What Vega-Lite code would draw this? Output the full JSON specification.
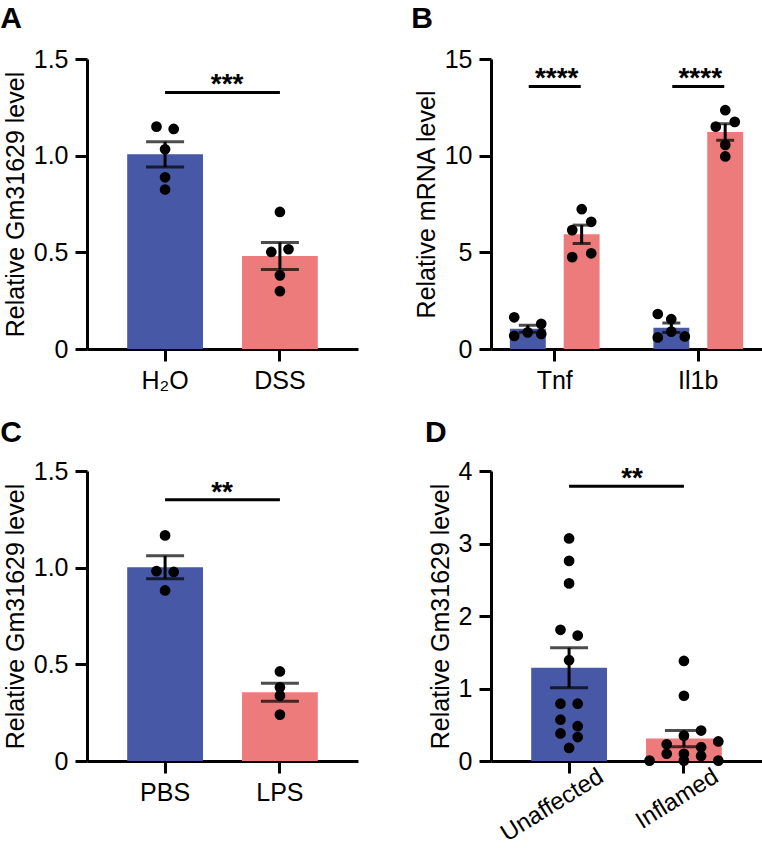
{
  "$schema": "https://vega.github.io/schema/vega-lite/v6.json",
  "background": "white",
  "padding": {"left": 0, "top": 4, "right": 0, "bottom": 0},
  "columns": 2,
  "spacing": {"row": 122, "column": 133},
  "bounds": "flush",
  "config": {
    "font": "Liberation Sans",
    "view": {"stroke": null},
    "axis": {
      "domainColor": "black", "domainWidth": 3, "tickColor": "black", "tickWidth": 3, "tickSize": 12,
      "labelFontSize": 25, "labelColor": "black", "labelFont": "Liberation Sans", "labelPadding": 7,
      "titleFontSize": 25, "titleFontWeight": "normal", "titleColor": "black", "titleFont": "Liberation Sans", "titlePadding": 5,
      "grid": false
    },
    "title": {"fontSize": 30, "fontWeight": "bold", "anchor": "start", "frame": "bounds", "color": "black", "font": "Liberation Sans", "offset": 13, "dx": -3}
  },
  "datasets": {
    "a": [
      {"group": "H₂O", "cond": "ctrl", "v": 1.150, "col": -1},
      {"group": "H₂O", "cond": "ctrl", "v": 1.138, "col": 1},
      {"group": "H₂O", "cond": "ctrl", "v": 1.033, "col": 0},
      {"group": "H₂O", "cond": "ctrl", "v": 0.888, "col": 0},
      {"group": "H₂O", "cond": "ctrl", "v": 0.825, "col": 0},
      {"group": "DSS", "cond": "case", "v": 0.709, "col": 0},
      {"group": "DSS", "cond": "case", "v": 0.502, "col": -1},
      {"group": "DSS", "cond": "case", "v": 0.516, "col": 1},
      {"group": "DSS", "cond": "case", "v": 0.381, "col": 0},
      {"group": "DSS", "cond": "case", "v": 0.299, "col": 0}
    ],
    "aSig": [{"a": "H₂O", "b": "DSS", "y": 1.327, "label": "***"}],
    "b": [
      {"gene": "Tnf", "cond": "ctrl", "v": 1.64, "col": -1},
      {"gene": "Tnf", "cond": "ctrl", "v": 1.30, "col": 1},
      {"gene": "Tnf", "cond": "ctrl", "v": 0.86, "col": 0},
      {"gene": "Tnf", "cond": "ctrl", "v": 0.68, "col": -1},
      {"gene": "Tnf", "cond": "ctrl", "v": 0.78, "col": 1},
      {"gene": "Tnf", "cond": "case", "v": 7.23, "col": 0},
      {"gene": "Tnf", "cond": "case", "v": 6.58, "col": 1},
      {"gene": "Tnf", "cond": "case", "v": 6.15, "col": -1},
      {"gene": "Tnf", "cond": "case", "v": 4.75, "col": -1},
      {"gene": "Tnf", "cond": "case", "v": 4.95, "col": 1},
      {"gene": "Il1b", "cond": "ctrl", "v": 1.81, "col": -1},
      {"gene": "Il1b", "cond": "ctrl", "v": 1.54, "col": 0},
      {"gene": "Il1b", "cond": "ctrl", "v": 0.90, "col": 0},
      {"gene": "Il1b", "cond": "ctrl", "v": 0.60, "col": -1},
      {"gene": "Il1b", "cond": "ctrl", "v": 0.65, "col": 1},
      {"gene": "Il1b", "cond": "case", "v": 12.35, "col": 0},
      {"gene": "Il1b", "cond": "case", "v": 11.50, "col": -1},
      {"gene": "Il1b", "cond": "case", "v": 11.75, "col": 1},
      {"gene": "Il1b", "cond": "case", "v": 10.56, "col": 0},
      {"gene": "Il1b", "cond": "case", "v": 9.96, "col": 0}
    ],
    "bSig": [
      {"gene": "Tnf", "y": 13.58, "label": "****"},
      {"gene": "Il1b", "y": 13.58, "label": "****"}
    ],
    "c": [
      {"group": "PBS", "cond": "ctrl", "v": 1.167, "col": 0},
      {"group": "PBS", "cond": "ctrl", "v": 0.982, "col": -1},
      {"group": "PBS", "cond": "ctrl", "v": 0.978, "col": 1},
      {"group": "PBS", "cond": "ctrl", "v": 0.882, "col": 0},
      {"group": "LPS", "cond": "case", "v": 0.463, "col": 0},
      {"group": "LPS", "cond": "case", "v": 0.381, "col": 0},
      {"group": "LPS", "cond": "case", "v": 0.338, "col": 0},
      {"group": "LPS", "cond": "case", "v": 0.240, "col": 0}
    ],
    "cSig": [{"a": "PBS", "b": "LPS", "y": 1.351, "label": "**"}],
    "d": [
      {"group": "Unaffected", "cond": "ctrl", "v": 3.07, "col": 0},
      {"group": "Unaffected", "cond": "ctrl", "v": 2.76, "col": 0},
      {"group": "Unaffected", "cond": "ctrl", "v": 2.45, "col": 0},
      {"group": "Unaffected", "cond": "ctrl", "v": 1.81, "col": -1},
      {"group": "Unaffected", "cond": "ctrl", "v": 1.73, "col": 1},
      {"group": "Unaffected", "cond": "ctrl", "v": 1.39, "col": 0},
      {"group": "Unaffected", "cond": "ctrl", "v": 0.79, "col": -1},
      {"group": "Unaffected", "cond": "ctrl", "v": 0.79, "col": 1},
      {"group": "Unaffected", "cond": "ctrl", "v": 0.57, "col": -1},
      {"group": "Unaffected", "cond": "ctrl", "v": 0.48, "col": 1},
      {"group": "Unaffected", "cond": "ctrl", "v": 0.38, "col": -1},
      {"group": "Unaffected", "cond": "ctrl", "v": 0.33, "col": 1},
      {"group": "Unaffected", "cond": "ctrl", "v": 0.18, "col": 0},
      {"group": "Inflamed", "cond": "case", "v": 1.38, "col": 0},
      {"group": "Inflamed", "cond": "case", "v": 0.90, "col": 0},
      {"group": "Inflamed", "cond": "case", "v": 0.42, "col": 2},
      {"group": "Inflamed", "cond": "case", "v": 0.35, "col": 0},
      {"group": "Inflamed", "cond": "case", "v": 0.23, "col": -2},
      {"group": "Inflamed", "cond": "case", "v": 0.27, "col": 4},
      {"group": "Inflamed", "cond": "case", "v": 0.19, "col": 2},
      {"group": "Inflamed", "cond": "case", "v": 0.10, "col": -2},
      {"group": "Inflamed", "cond": "case", "v": 0.10, "col": 0},
      {"group": "Inflamed", "cond": "case", "v": 0.07, "col": 2},
      {"group": "Inflamed", "cond": "case", "v": 0.005, "col": -4},
      {"group": "Inflamed", "cond": "case", "v": 0.005, "col": 0},
      {"group": "Inflamed", "cond": "case", "v": 0.005, "col": 4}
    ],
    "dSig": [{"a": "Unaffected", "b": "Inflamed", "y": 3.79, "label": "**"}]
  },
  "concat": [
    {
      "width": 271, "height": 290,
      "title": {"text": "A"},
      "layer": [
        {
          "data": {"name": "a"},
          "mark": {"type": "bar"},
          "encoding": {
            "x": {"field": "group", "type": "nominal", "title": null, "scale": {"domain": ["H₂O", "DSS"], "paddingInner": 0.34, "paddingOuter": 0.35}, "axis": {"labelAngle": 0}},
            "y": {"aggregate": "mean", "field": "v", "type": "quantitative", "title": "Relative Gm31629 level", "scale": {"domain": [0, 1.5], "nice": false}, "axis": {"values": [0, 0.5, 1, 1.5], "labelExpr": "datum.value == 0 ? '0' : format(datum.value, '.1f')"}},
            "color": {"field": "cond", "type": "nominal", "scale": {"domain": ["ctrl", "case"], "range": ["#4658A6", "#EE7B7B"]}, "legend": null}
          }
        },
        {
          "data": {"name": "a"},
          "mark": {"type": "errorbar", "extent": "stderr", "ticks": true, "size": 38, "thickness": 3, "color": "black"},
          "encoding": {"x": {"field": "group", "type": "nominal", "title": null}, "y": {"field": "v", "type": "quantitative", "title": "Relative Gm31629 level"}}
        },
        {
          "data": {"name": "a"}, "transform": [{"filter": "datum.col == -1"}],
          "mark": {"type": "circle", "size": 115, "color": "black", "opacity": 1, "xOffset": -8.6},
          "encoding": {"x": {"field": "group", "type": "nominal", "title": null}, "y": {"field": "v", "type": "quantitative", "title": "Relative Gm31629 level"}}
        },
        {
          "data": {"name": "a"}, "transform": [{"filter": "datum.col == 0"}],
          "mark": {"type": "circle", "size": 115, "color": "black", "opacity": 1},
          "encoding": {"x": {"field": "group", "type": "nominal", "title": null}, "y": {"field": "v", "type": "quantitative", "title": "Relative Gm31629 level"}}
        },
        {
          "data": {"name": "a"}, "transform": [{"filter": "datum.col == 1"}],
          "mark": {"type": "circle", "size": 115, "color": "black", "opacity": 1, "xOffset": 8.6},
          "encoding": {"x": {"field": "group", "type": "nominal", "title": null}, "y": {"field": "v", "type": "quantitative", "title": "Relative Gm31629 level"}}
        },
        {
          "data": {"name": "aSig"},
          "mark": {"type": "rule", "strokeWidth": 3, "color": "black"},
          "encoding": {"x": {"field": "a", "type": "nominal", "title": null}, "x2": {"field": "b"}, "y": {"field": "y", "type": "quantitative", "title": "Relative Gm31629 level"}}
        },
        {
          "data": {"name": "aSig"},
          "mark": {"type": "text", "fontSize": 28, "fontWeight": "bold", "baseline": "alphabetic", "align": "center", "xOffset": 62, "dy": 1, "color": "black"},
          "encoding": {"x": {"field": "a", "type": "nominal", "title": null}, "y": {"field": "y", "type": "quantitative", "title": "Relative Gm31629 level"}, "text": {"field": "label"}}
        }
      ]
    },
    {
      "width": 271, "height": 290,
      "title": {"text": "B"},
      "layer": [
        {
          "data": {"name": "b"},
          "mark": {"type": "bar"},
          "encoding": {
            "x": {"field": "gene", "type": "nominal", "title": null, "scale": {"domain": ["Tnf", "Il1b"], "paddingInner": 0.2, "paddingOuter": 0.044}, "axis": {"labelAngle": 0}},
            "xOffset": {"field": "cond", "type": "nominal", "scale": {"domain": ["ctrl", "case"], "paddingInner": 0.333, "paddingOuter": 0.233}},
            "y": {"aggregate": "mean", "field": "v", "type": "quantitative", "title": "Relative mRNA level", "scale": {"domain": [0, 15], "nice": false}, "axis": {"values": [0, 5, 10, 15], "format": "d"}},
            "color": {"field": "cond", "type": "nominal", "scale": {"domain": ["ctrl", "case"], "range": ["#4658A6", "#EE7B7B"]}, "legend": null}
          }
        },
        {
          "data": {"name": "b"},
          "mark": {"type": "errorbar", "extent": "stderr", "ticks": true, "size": 18, "thickness": 3, "color": "black"},
          "encoding": {"x": {"field": "gene", "type": "nominal", "title": null}, "xOffset": {"field": "cond", "type": "nominal"}, "y": {"field": "v", "type": "quantitative", "title": "Relative mRNA level"}}
        },
        {
          "data": {"name": "b"}, "transform": [{"filter": "datum.cond == 'ctrl' && datum.col == -1"}],
          "mark": {"type": "circle", "size": 115, "color": "black", "opacity": 1, "xOffset": -40.5},
          "encoding": {"x": {"field": "gene", "type": "nominal", "title": null}, "y": {"field": "v", "type": "quantitative", "title": "Relative mRNA level"}}
        },
        {
          "data": {"name": "b"}, "transform": [{"filter": "datum.cond == 'ctrl' && datum.col == 0"}],
          "mark": {"type": "circle", "size": 115, "color": "black", "opacity": 1, "xOffset": -27},
          "encoding": {"x": {"field": "gene", "type": "nominal", "title": null}, "y": {"field": "v", "type": "quantitative", "title": "Relative mRNA level"}}
        },
        {
          "data": {"name": "b"}, "transform": [{"filter": "datum.cond == 'ctrl' && datum.col == 1"}],
          "mark": {"type": "circle", "size": 115, "color": "black", "opacity": 1, "xOffset": -13.5},
          "encoding": {"x": {"field": "gene", "type": "nominal", "title": null}, "y": {"field": "v", "type": "quantitative", "title": "Relative mRNA level"}}
        },
        {
          "data": {"name": "b"}, "transform": [{"filter": "datum.cond == 'case' && datum.col == -1"}],
          "mark": {"type": "circle", "size": 115, "color": "black", "opacity": 1, "xOffset": 17.5},
          "encoding": {"x": {"field": "gene", "type": "nominal", "title": null}, "y": {"field": "v", "type": "quantitative", "title": "Relative mRNA level"}}
        },
        {
          "data": {"name": "b"}, "transform": [{"filter": "datum.cond == 'case' && datum.col == 0"}],
          "mark": {"type": "circle", "size": 115, "color": "black", "opacity": 1, "xOffset": 27},
          "encoding": {"x": {"field": "gene", "type": "nominal", "title": null}, "y": {"field": "v", "type": "quantitative", "title": "Relative mRNA level"}}
        },
        {
          "data": {"name": "b"}, "transform": [{"filter": "datum.cond == 'case' && datum.col == 1"}],
          "mark": {"type": "circle", "size": 115, "color": "black", "opacity": 1, "xOffset": 36.5},
          "encoding": {"x": {"field": "gene", "type": "nominal", "title": null}, "y": {"field": "v", "type": "quantitative", "title": "Relative mRNA level"}}
        },
        {
          "data": {"name": "bSig"},
          "mark": {"type": "rule", "strokeWidth": 3, "color": "black", "xOffset": -26, "x2Offset": 26},
          "encoding": {"x": {"field": "gene", "type": "nominal", "title": null}, "x2": {"field": "gene"}, "y": {"field": "y", "type": "quantitative", "title": "Relative mRNA level"}}
        },
        {
          "data": {"name": "bSig"},
          "mark": {"type": "text", "fontSize": 28, "fontWeight": "bold", "baseline": "alphabetic", "align": "center", "xOffset": 2, "dy": 1, "color": "black"},
          "encoding": {"x": {"field": "gene", "type": "nominal", "title": null}, "y": {"field": "y", "type": "quantitative", "title": "Relative mRNA level"}, "text": {"field": "label"}}
        }
      ]
    },
    {
      "width": 271, "height": 290,
      "title": {"text": "C", "offset": 11},
      "layer": [
        {
          "data": {"name": "c"},
          "mark": {"type": "bar"},
          "encoding": {
            "x": {"field": "group", "type": "nominal", "title": null, "scale": {"domain": ["PBS", "LPS"], "paddingInner": 0.34, "paddingOuter": 0.35}, "axis": {"labelAngle": 0}},
            "y": {"aggregate": "mean", "field": "v", "type": "quantitative", "title": "Relative Gm31629 level", "scale": {"domain": [0, 1.5], "nice": false}, "axis": {"values": [0, 0.5, 1, 1.5], "labelExpr": "datum.value == 0 ? '0' : format(datum.value, '.1f')"}},
            "color": {"field": "cond", "type": "nominal", "scale": {"domain": ["ctrl", "case"], "range": ["#4658A6", "#EE7B7B"]}, "legend": null}
          }
        },
        {
          "data": {"name": "c"},
          "mark": {"type": "errorbar", "extent": "stderr", "ticks": true, "size": 38, "thickness": 3, "color": "black"},
          "encoding": {"x": {"field": "group", "type": "nominal", "title": null}, "y": {"field": "v", "type": "quantitative", "title": "Relative Gm31629 level"}}
        },
        {
          "data": {"name": "c"}, "transform": [{"filter": "datum.col == -1"}],
          "mark": {"type": "circle", "size": 115, "color": "black", "opacity": 1, "xOffset": -8.6},
          "encoding": {"x": {"field": "group", "type": "nominal", "title": null}, "y": {"field": "v", "type": "quantitative", "title": "Relative Gm31629 level"}}
        },
        {
          "data": {"name": "c"}, "transform": [{"filter": "datum.col == 0"}],
          "mark": {"type": "circle", "size": 115, "color": "black", "opacity": 1},
          "encoding": {"x": {"field": "group", "type": "nominal", "title": null}, "y": {"field": "v", "type": "quantitative", "title": "Relative Gm31629 level"}}
        },
        {
          "data": {"name": "c"}, "transform": [{"filter": "datum.col == 1"}],
          "mark": {"type": "circle", "size": 115, "color": "black", "opacity": 1, "xOffset": 8.6},
          "encoding": {"x": {"field": "group", "type": "nominal", "title": null}, "y": {"field": "v", "type": "quantitative", "title": "Relative Gm31629 level"}}
        },
        {
          "data": {"name": "cSig"},
          "mark": {"type": "rule", "strokeWidth": 3, "color": "black"},
          "encoding": {"x": {"field": "a", "type": "nominal", "title": null}, "x2": {"field": "b"}, "y": {"field": "y", "type": "quantitative", "title": "Relative Gm31629 level"}}
        },
        {
          "data": {"name": "cSig"},
          "mark": {"type": "text", "fontSize": 28, "fontWeight": "bold", "baseline": "alphabetic", "align": "center", "xOffset": 57, "dy": 1, "color": "black"},
          "encoding": {"x": {"field": "a", "type": "nominal", "title": null}, "y": {"field": "y", "type": "quantitative", "title": "Relative Gm31629 level"}, "text": {"field": "label"}}
        }
      ]
    },
    {
      "width": 271, "height": 290,
      "title": {"text": "D", "offset": 11},
      "layer": [
        {
          "data": {"name": "d"},
          "mark": {"type": "bar"},
          "encoding": {
            "x": {"field": "group", "type": "nominal", "title": null, "scale": {"domain": ["Unaffected", "Inflamed"], "paddingInner": 0.34, "paddingOuter": 0.35}, "axis": {"labelAngle": -32, "labelAlign": "right", "labelBaseline": "top", "labelOffset": 26, "labelPadding": -9, "labelFontSize": 24}},
            "y": {"aggregate": "mean", "field": "v", "type": "quantitative", "title": "Relative Gm31629 level", "scale": {"domain": [0, 4], "nice": false}, "axis": {"values": [0, 1, 2, 3, 4], "format": "d"}},
            "color": {"field": "cond", "type": "nominal", "scale": {"domain": ["ctrl", "case"], "range": ["#4658A6", "#EE7B7B"]}, "legend": null}
          }
        },
        {
          "data": {"name": "d"},
          "mark": {"type": "errorbar", "extent": "stderr", "ticks": true, "size": 38, "thickness": 3, "color": "black"},
          "encoding": {"x": {"field": "group", "type": "nominal", "title": null}, "y": {"field": "v", "type": "quantitative", "title": "Relative Gm31629 level"}}
        },
        {
          "data": {"name": "d"}, "transform": [{"filter": "datum.col == -4"}],
          "mark": {"type": "circle", "size": 115, "color": "black", "opacity": 1, "xOffset": -34.4},
          "encoding": {"x": {"field": "group", "type": "nominal", "title": null}, "y": {"field": "v", "type": "quantitative", "title": "Relative Gm31629 level"}}
        },
        {
          "data": {"name": "d"}, "transform": [{"filter": "datum.col == -2"}],
          "mark": {"type": "circle", "size": 115, "color": "black", "opacity": 1, "xOffset": -17.2},
          "encoding": {"x": {"field": "group", "type": "nominal", "title": null}, "y": {"field": "v", "type": "quantitative", "title": "Relative Gm31629 level"}}
        },
        {
          "data": {"name": "d"}, "transform": [{"filter": "datum.col == -1"}],
          "mark": {"type": "circle", "size": 115, "color": "black", "opacity": 1, "xOffset": -8.6},
          "encoding": {"x": {"field": "group", "type": "nominal", "title": null}, "y": {"field": "v", "type": "quantitative", "title": "Relative Gm31629 level"}}
        },
        {
          "data": {"name": "d"}, "transform": [{"filter": "datum.col == 0"}],
          "mark": {"type": "circle", "size": 115, "color": "black", "opacity": 1},
          "encoding": {"x": {"field": "group", "type": "nominal", "title": null}, "y": {"field": "v", "type": "quantitative", "title": "Relative Gm31629 level"}}
        },
        {
          "data": {"name": "d"}, "transform": [{"filter": "datum.col == 1"}],
          "mark": {"type": "circle", "size": 115, "color": "black", "opacity": 1, "xOffset": 8.6},
          "encoding": {"x": {"field": "group", "type": "nominal", "title": null}, "y": {"field": "v", "type": "quantitative", "title": "Relative Gm31629 level"}}
        },
        {
          "data": {"name": "d"}, "transform": [{"filter": "datum.col == 2"}],
          "mark": {"type": "circle", "size": 115, "color": "black", "opacity": 1, "xOffset": 17.2},
          "encoding": {"x": {"field": "group", "type": "nominal", "title": null}, "y": {"field": "v", "type": "quantitative", "title": "Relative Gm31629 level"}}
        },
        {
          "data": {"name": "d"}, "transform": [{"filter": "datum.col == 4"}],
          "mark": {"type": "circle", "size": 115, "color": "black", "opacity": 1, "xOffset": 34.4},
          "encoding": {"x": {"field": "group", "type": "nominal", "title": null}, "y": {"field": "v", "type": "quantitative", "title": "Relative Gm31629 level"}}
        },
        {
          "data": {"name": "dSig"},
          "mark": {"type": "rule", "strokeWidth": 3, "color": "black"},
          "encoding": {"x": {"field": "a", "type": "nominal", "title": null}, "x2": {"field": "b"}, "y": {"field": "y", "type": "quantitative", "title": "Relative Gm31629 level"}}
        },
        {
          "data": {"name": "dSig"},
          "mark": {"type": "text", "fontSize": 28, "fontWeight": "bold", "baseline": "alphabetic", "align": "center", "xOffset": 63, "dy": 1, "color": "black"},
          "encoding": {"x": {"field": "a", "type": "nominal", "title": null}, "y": {"field": "y", "type": "quantitative", "title": "Relative Gm31629 level"}, "text": {"field": "label"}}
        }
      ]
    }
  ]
}
